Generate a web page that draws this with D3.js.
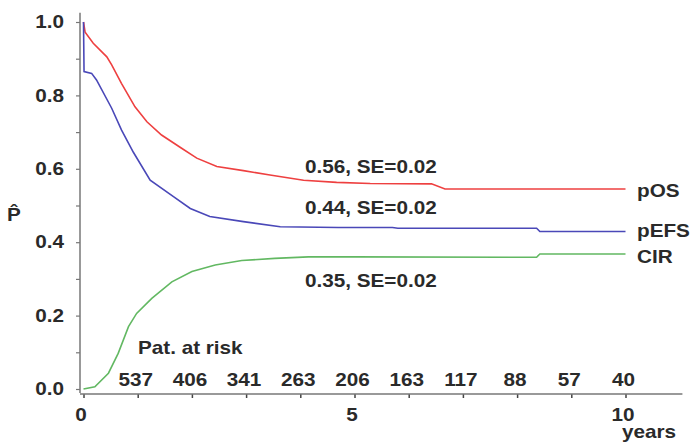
<!DOCTYPE html>
<html>
<head>
<meta charset="utf-8">
<script src="https://cdn.jsdelivr.net/npm/d3@7"></script>
<style>
  body { margin: 0; background: #fff; }
  svg text { font-family: "Liberation Sans", Arial, sans-serif; font-weight: bold; fill: #2a2a2a; }
</style>
</head>
<body>
<svg id="chart" width="690" height="444"></svg>
<script>
// survival curves (time in years, probability)
var osTimes   = [0, 0.03, 0.18, 0.43, 0.52, 0.70, 0.95, 1.17, 1.44, 1.81, 2.09, 2.46, 2.95, 3.44, 4.06, 4.67, 5.29, 6.42, 6.67, 10.0];
var osValues  = [1.0, 0.972, 0.942, 0.905, 0.883, 0.833, 0.769, 0.728, 0.692, 0.656, 0.629, 0.606, 0.595, 0.583, 0.569, 0.563, 0.560, 0.559, 0.545, 0.545];
var efsTimes  = [0, 0.01, 0.15, 0.24, 0.52, 0.70, 0.92, 1.23, 1.66, 1.97, 2.33, 2.95, 3.63, 4.70, 5.70, 5.80, 8.36, 8.42, 10.0];
var efsValues = [1.0, 0.865, 0.860, 0.842, 0.765, 0.706, 0.645, 0.569, 0.524, 0.492, 0.470, 0.456, 0.442, 0.440, 0.440, 0.438, 0.438, 0.429, 0.429];
var cirTimes  = [0, 0.21, 0.46, 0.64, 0.83, 0.98, 1.26, 1.63, 2.0, 2.43, 2.92, 3.53, 4.15, 5.0, 8.36, 8.42, 10.0];
var cirValues = [0, 0.006, 0.043, 0.097, 0.170, 0.206, 0.247, 0.292, 0.320, 0.338, 0.350, 0.356, 0.360, 0.360, 0.359, 0.368, 0.368];

var seriesNames  = ["pOS", "pEFS", "CIR"];
var seriesLabels = ["0.56, SE=0.02", "0.44, SE=0.02", "0.35, SE=0.02"];
var atRiskYears  = [1, 2, 3, 4, 5, 6, 7, 8, 9, 10];
var atRisk       = [537, 406, 341, 263, 206, 163, 117, 88, 57, 40];
var yTicks       = [0, 0.1, 0.2, 0.3, 0.4, 0.5, 0.6, 0.7, 0.8, 0.9, 1.0];
var xTicks       = [0, 1, 2, 3, 4, 5, 6, 7, 8, 9, 10];
var xTickLabels  = ["0", "", "", "", "", "5", "", "", "", "", "10"];

var SX = 1.15; // text in the picture is a bit wide
var FS = "18px";
var svg = d3.select("#chart");

var x = d3.scaleLinear().domain([0, 10]).range([83.5, 625.5]);
var y = d3.scaleLinear().domain([0, 1]).range([389, 22]);

function label(txt, px, py, anchor) {
  return svg.append("text")
    .attr("transform", "translate(" + px + "," + py + ") scale(" + SX + ",1)")
    .attr("dy", "0.35em")
    .attr("text-anchor", anchor || "start")
    .style("font-size", FS)
    .text(txt);
}

// y axis
var yAxis = svg.append("g")
  .attr("transform", "translate(80,0)")
  .call(d3.axisLeft(y).tickValues(yTicks).tickSize(4).tickPadding(10)
    .tickFormat(function (d) { return Math.round(d * 10) % 2 === 0 ? d3.format(".1f")(d) : ""; }));
yAxis.select(".domain").remove();
yAxis.selectAll("line").attr("stroke", "#777").attr("stroke-width", 1.2);
yAxis.selectAll("text")
  .style("font-size", FS)
  .attr("transform", "scale(" + SX + ",1)");
svg.append("line")
  .attr("x1", 80).attr("x2", 80)
  .attr("y1", y(1.025)).attr("y2", 393)
  .attr("stroke", "#777").attr("stroke-width", 1.5);

// x axis
var xAxis = svg.append("g")
  .attr("transform", "translate(0,394)")
  .call(d3.axisBottom(x).tickValues(xTicks).tickSize(4).tickPadding(10)
    .tickFormat(function (d, i) { return xTickLabels[i]; }));
xAxis.select(".domain").remove();
xAxis.selectAll("line").attr("stroke", "#444").attr("stroke-width", 1.5);
xAxis.selectAll("text")
  .style("font-size", FS)
  .attr("transform", "scale(" + SX + ",1)")
  .attr("x", function () { return -3 / SX; });
svg.append("line")
  .attr("x1", 80).attr("x2", x(11.05))
  .attr("y1", 394).attr("y2", 394)
  .attr("stroke", "#777").attr("stroke-width", 1.5);

// curves
var line = d3.line().x(function (d) { return x(d[0]); }).y(function (d) { return y(d[1]); });
var curves = [
  { t: osTimes, v: osValues, color: "#ee4040" },
  { t: efsTimes, v: efsValues, color: "#4a48b8" },
  { t: cirTimes, v: cirValues, color: "#62b862" }
];
curves.forEach(function (c) {
  svg.append("path")
    .datum(d3.zip(c.t, c.v))
    .attr("d", line)
    .attr("fill", "none")
    .attr("stroke", c.color)
    .attr("stroke-width", 1.6);
});

// annotations
var labelY = [167, 208, 281];
var nameY  = [191, 231, 257];
seriesLabels.forEach(function (s, i) { label(s, 305, labelY[i]); });
seriesNames.forEach(function (s, i) { label(s, 637, nameY[i]); });

label("Pat. at risk", 138, 348);
atRisk.forEach(function (n, i) { label(n, x(atRiskYears[i]) - 2, 380, "middle"); });

label("years", 622, 432);
label("P\u0302", 14, 215, "middle");
</script>
</body>
</html>
